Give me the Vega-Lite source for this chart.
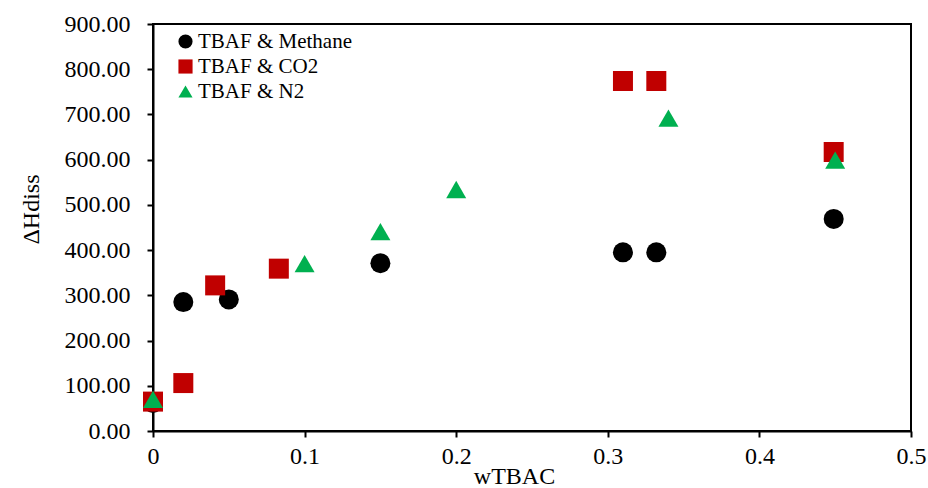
{
  "$schema": "https://vega.github.io/schema/vega-lite/v6.json",
  "width": 758,
  "height": 407,
  "autosize": {"type": "none"},
  "padding": {"left": 153, "top": 24, "right": 17, "bottom": 57},
  "background": "white",
  "config": {
    "font": "Liberation Serif",
    "view": {"stroke": "black", "strokeWidth": 2},
    "axis": {"grid": false, "domainColor": "black", "domainWidth": 2, "tickColor": "black", "tickWidth": 2, "tickSize": 6, "labelFont": "Liberation Serif", "labelFontSize": 24, "labelColor": "black", "labelFlush": false, "titleFont": "Liberation Serif", "titleFontSize": 24, "titleFontWeight": "normal", "titleColor": "black"}
  },
  "data": {
    "values": [
      {"x": 0, "y": 62, "s": "TBAF & Methane"},
      {"x": 0.02, "y": 285, "s": "TBAF & Methane"},
      {"x": 0.05, "y": 291, "s": "TBAF & Methane"},
      {"x": 0.15, "y": 371, "s": "TBAF & Methane"},
      {"x": 0.31, "y": 395, "s": "TBAF & Methane"},
      {"x": 0.332, "y": 395, "s": "TBAF & Methane"},
      {"x": 0.449, "y": 469, "s": "TBAF & Methane"},
      {"x": 0, "y": 65, "s": "TBAF & CO2"},
      {"x": 0.02, "y": 106, "s": "TBAF & CO2"},
      {"x": 0.041, "y": 322, "s": "TBAF & CO2"},
      {"x": 0.083, "y": 359, "s": "TBAF & CO2"},
      {"x": 0.31, "y": 774, "s": "TBAF & CO2"},
      {"x": 0.332, "y": 774, "s": "TBAF & CO2"},
      {"x": 0.449, "y": 617, "s": "TBAF & CO2"},
      {"x": 0, "y": 70, "s": "TBAF & N2"},
      {"x": 0.1, "y": 370, "s": "TBAF & N2"},
      {"x": 0.15, "y": 441, "s": "TBAF & N2"},
      {"x": 0.2, "y": 534, "s": "TBAF & N2"},
      {"x": 0.34, "y": 692, "s": "TBAF & N2"},
      {"x": 0.45, "y": 599, "s": "TBAF & N2"}
    ]
  },
  "mark": {"type": "point", "filled": true, "opacity": 1, "size": 400},
  "encoding": {
    "x": {"field": "x", "type": "quantitative", "scale": {"domain": [0, 0.5], "nice": false, "zero": false}, "axis": {"values": [0, 0.1, 0.2, 0.3, 0.4, 0.5], "format": "~g", "title": "wTBAC", "labelPadding": 7, "titleX": 361, "titleY": 52, "titleBaseline": "alphabetic", "titleAnchor": null, "titleAlign": "center"}},
    "y": {"field": "y", "type": "quantitative", "scale": {"domain": [0, 900], "nice": false}, "axis": {"values": [0, 100, 200, 300, 400, 500, 600, 700, 800, 900], "format": ".2f", "title": "ΔHdiss", "labelPadding": 17, "titleX": -115, "titleY": 185, "titleAlign": "center", "titleAngle": -90, "titleBaseline": "alphabetic"}},
    "color": {"field": "s", "type": "nominal", "scale": {"domain": ["TBAF & Methane", "TBAF & CO2", "TBAF & N2"], "range": ["#000000", "#C00000", "#00B050"]}, "legend": {"title": null, "orient": "none", "legendX": 22, "legendY": 7, "labelFontSize": 21, "labelFont": "Liberation Serif", "labelColor": "black", "symbolSize": 200, "rowPadding": 3, "labelOffset": 2, "symbolOpacity": 1}},
    "shape": {"field": "s", "type": "nominal", "scale": {"domain": ["TBAF & Methane", "TBAF & CO2", "TBAF & N2"], "range": ["circle", "square", "triangle-up"]}}
  }
}
